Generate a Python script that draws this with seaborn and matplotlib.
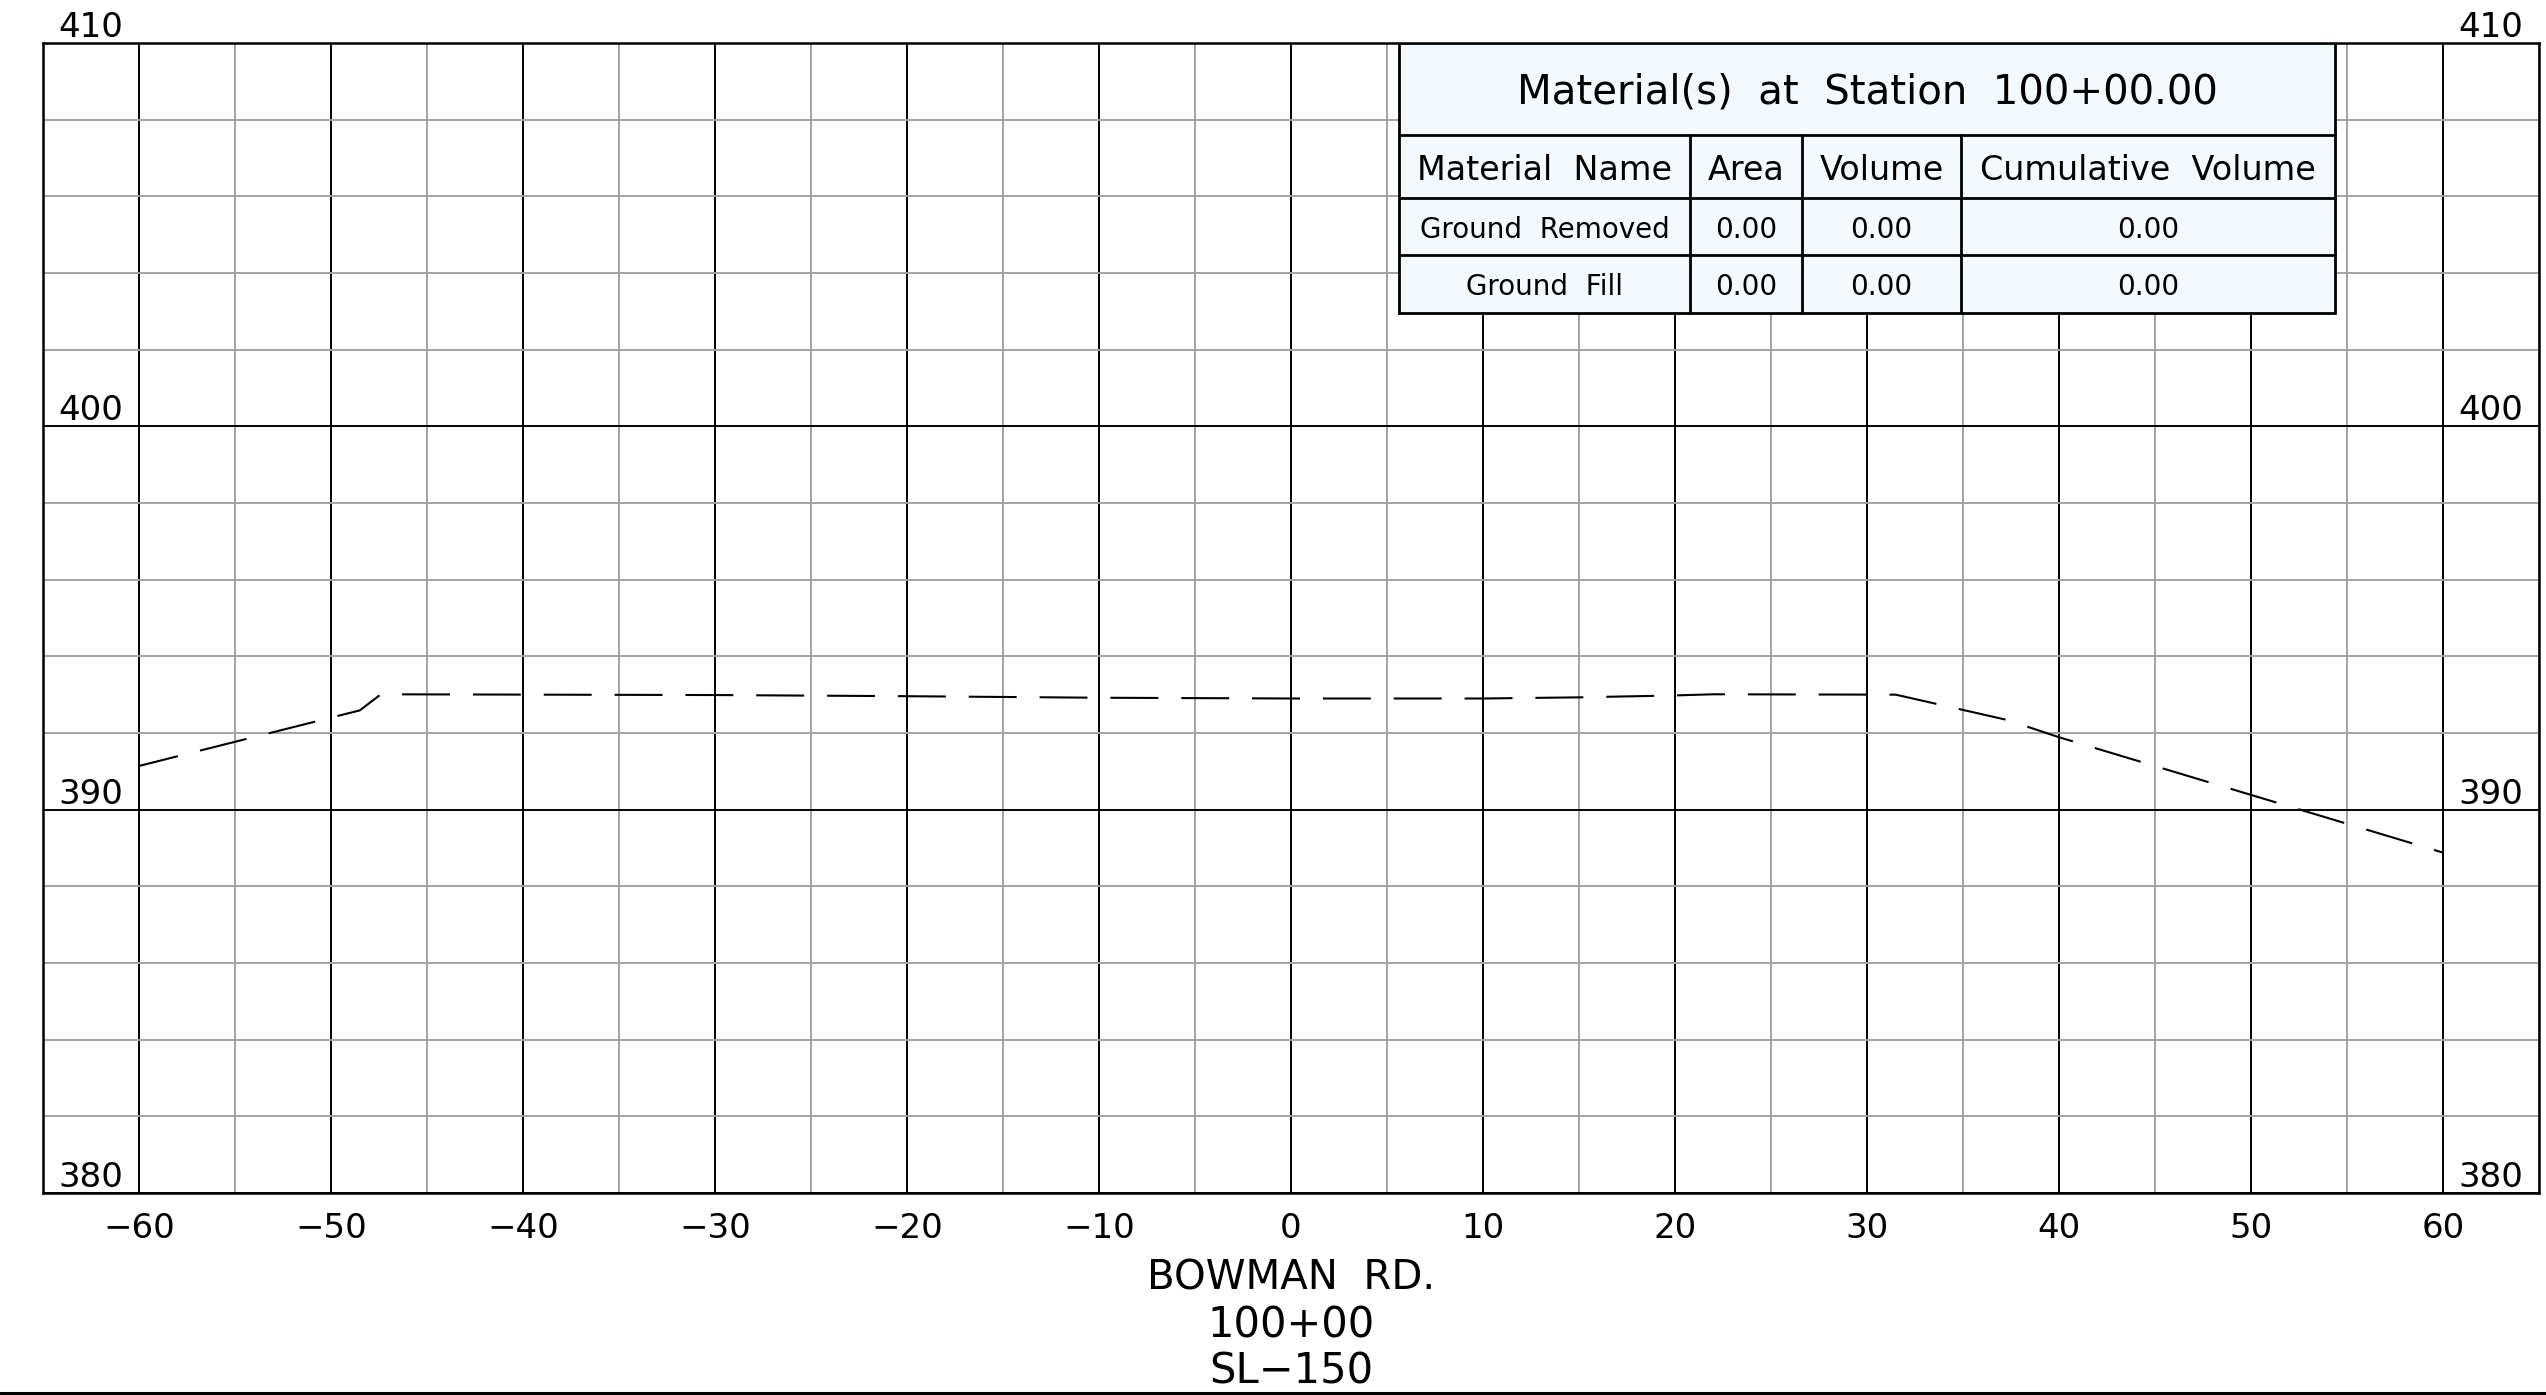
import matplotlib
matplotlib.use("Agg")
import matplotlib.pyplot as plt
from matplotlib.lines import Line2D
from matplotlib.patches import Rectangle
import pandas as pd
import seaborn as sns

offset = [-60, -48.5, -47.4, -30, -20, -10, 0, 10, 15, 20, 22, 31.5, 37.3, 40, 60]
elevation = [391.14, 392.59, 393.01, 392.99, 392.96, 392.92, 392.90, 392.90,
             392.93, 392.98, 393.01, 393.00, 392.34, 391.89, 388.88]

x_ticks = list(range(-60, 61, 10))
elev_labels = [380, 390, 400, 410]

road_name = "BOWMAN  RD."
station = "100+00"
sheet = "SL\u2212150"

table_title = "Material(s)  at  Station  100+00.00"
table_header = ["Material  Name", "Area", "Volume", "Cumulative  Volume"]
materials = ["Ground  Removed", "Ground  Fill"]
area = ["0.00", "0.00"]
volume = ["0.00", "0.00"]
cum_volume = ["0.00", "0.00"]

df = pd.DataFrame({"offset": offset, "elevation": elevation})

# ---- style ----
sns.set_style("white")
plt.rcParams["font.family"] = ["DejaVu Sans"]
plt.rcParams["text.color"] = "black"
plt.rcParams["xtick.color"] = "black"

fig = plt.figure(figsize=(25.46, 13.95), dpi=100)
ax = fig.add_axes([43 / 2546, 1 - 1193 / 1395, 2496 / 2546, 1150 / 1395])
ax.set_xlim(-65, 65)
ax.set_ylim(380, 410)

# grid: black every 10, grey every 5 (x) / 2 (y)
ax.set_xticks(x_ticks)
ax.set_xticks(range(-65, 66, 5), minor=True)
ax.set_yticks(elev_labels)
ax.set_yticks(range(380, 411, 2), minor=True)
ax.set_yticklabels([])
ax.grid(which="major", color="black", linewidth=1.4)
ax.grid(which="minor", color="#a3a3a3", linewidth=1.4)
ax.set_axisbelow(True)
ax.tick_params(axis="both", which="both", length=0)
ax.tick_params(axis="x", pad=14, labelsize=24.5, labelcolor="black")
for s in ax.spines.values():
    s.set_color("black")
    s.set_linewidth(1.8)

# ground line
sns.lineplot(data=df, x="offset", y="elevation", ax=ax, color="black",
             linewidth=1.5, sort=False, errorbar=None, zorder=2)
ln = ax.lines[-1]
ln.set_linestyle((3.8, (23, 11)))
ax.set_xlabel("")
ax.set_ylabel("")

# elevation labels on both sides
for v in elev_labels:
    for xx in (-62.5, 62.5):
        ax.text(xx, v + 0.16, str(v), ha="center", va="baseline",
                fontsize=24.5, clip_on=False)

# ---- material table ----
col_edges = [5.65, 20.8, 26.6, 34.9, 54.4]
row_edges = [410, 407.6, 405.95, 404.46, 402.95]
ax.add_patch(Rectangle((col_edges[0], row_edges[-1]), col_edges[-1] - col_edges[0],
                       row_edges[0] - row_edges[-1], facecolor="#f3f9fc",
                       edgecolor="black", linewidth=2, zorder=3))
for yy in row_edges[1:-1]:
    ax.plot([col_edges[0], col_edges[-1]], [yy, yy], color="black", lw=2, zorder=4)
for xx in col_edges[1:-1]:
    ax.plot([xx, xx], [row_edges[1], row_edges[-1]], color="black", lw=2, zorder=4)

ax.text((col_edges[0] + col_edges[-1]) / 2, (row_edges[0] + row_edges[1]) / 2 - 0.08,
        table_title, ha="center", va="center", fontsize=29, zorder=5)
for i, h in enumerate(table_header):
    ax.text((col_edges[i] + col_edges[i + 1]) / 2, (row_edges[1] + row_edges[2]) / 2 - 0.1,
            h, ha="center", va="center", fontsize=24, zorder=5)
rows = list(zip(materials, area, volume, cum_volume))
for r, row in enumerate(rows):
    yc = (row_edges[r + 2] + row_edges[r + 3]) / 2 - 0.08
    for i, val in enumerate(row):
        ax.text((col_edges[i] + col_edges[i + 1]) / 2, yc, val,
                ha="center", va="center", fontsize=20, zorder=5)

# ---- title block under the section ----
fig.text(1291 / 2546, 1 - 1278 / 1395, road_name, ha="center", va="center", fontsize=29)
fig.text(1291 / 2546, 1 - 1325 / 1395, station, ha="center", va="center", fontsize=30)
fig.text(1291 / 2546, 1 - 1371 / 1395, sheet, ha="center", va="center", fontsize=30)
fig.add_artist(Line2D([0, 1], [1 - 1393 / 1395] * 2, color="black", linewidth=2.2))

fig.savefig("out.png", dpi=100)
